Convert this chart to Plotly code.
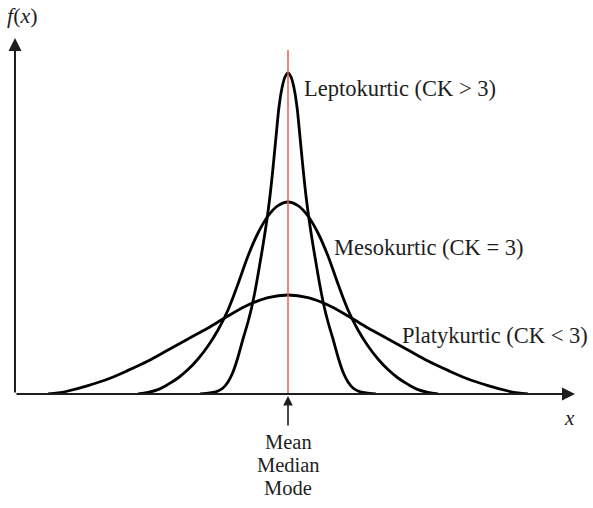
import plotly.graph_objects as go

# Leptokurtic (CK > 3)
lepto_x = [-2.2, -1.95, -1.75, -1.625, -1.5, -1.375, -1.25, -1.125, -1.0, -0.9, -0.8, -0.7, -0.6, -0.525, -0.45,
           -0.375, -0.3, -0.225, -0.15, -0.075, 0.0,
           0.075, 0.15, 0.225, 0.3, 0.375, 0.45, 0.525, 0.6, 0.7, 0.8, 0.9, 1.0, 1.125, 1.25, 1.375, 1.5,
           1.625, 1.75, 1.95, 2.2]
lepto_f = [0.0, 0.0025, 0.0075, 0.015, 0.03, 0.055, 0.0925, 0.1375, 0.18, 0.22, 0.27, 0.3275, 0.3875, 0.4375, 0.495,
           0.565, 0.6425, 0.7175, 0.765, 0.7925, 0.8025,
           0.7925, 0.765, 0.7175, 0.6425, 0.565, 0.495, 0.4375, 0.3875, 0.3275, 0.27, 0.22, 0.18, 0.1375, 0.0925,
           0.055, 0.03, 0.015, 0.0075, 0.0025, 0.0]

# Mesokurtic (CK = 3)
meso_x = [-3.75, -3.5, -3.25, -3.0, -2.75, -2.5, -2.25, -2.0, -1.75, -1.5, -1.25, -1.0, -0.75, -0.5, -0.25, 0.0,
          0.25, 0.5, 0.75, 1.0, 1.25, 1.5, 1.75, 2.0, 2.25, 2.5, 2.75, 3.0, 3.25, 3.5, 3.75]
meso_f = [0.0, 0.004, 0.011, 0.024, 0.04, 0.061, 0.0875, 0.12, 0.16, 0.21, 0.275, 0.345, 0.4025, 0.445, 0.471, 0.48,
          0.471, 0.445, 0.4025, 0.345, 0.275, 0.21, 0.16, 0.12, 0.0875, 0.061, 0.04, 0.024, 0.011, 0.004, 0.0]

# Platykurtic (CK < 3)
platy_x = [-6.0, -5.75, -5.5, -5.0, -4.5, -4.0, -3.5, -3.0, -2.5, -2.0, -1.5, -1.0, -0.5, 0.0,
           0.5, 1.0, 1.5, 2.0, 2.5, 3.0, 3.5, 4.0, 4.5, 5.0, 5.5, 5.75, 6.0]
platy_f = [0.0, 0.0025, 0.0075, 0.021, 0.0375, 0.059, 0.0825, 0.11, 0.1375, 0.165, 0.195, 0.2225, 0.241, 0.2475,
           0.241, 0.2225, 0.195, 0.165, 0.1375, 0.11, 0.0825, 0.059, 0.0375, 0.021, 0.0075, 0.0025, 0.0]

curve_labels = ["Leptokurtic (CK > 3)", "Mesokurtic (CK = 3)", "Platykurtic (CK < 3)"]
center_labels = ["Mean", "Median", "Mode"]

X_MIN, X_MAX = -6.825, 7.175
Y_MIN, Y_MAX = 0.0, 0.89
SERIF = "Liberation Serif, Times New Roman, serif"
INK = "#1e1e1e"

fig = go.Figure()
for xs, fs, name in [(platy_x, platy_f, curve_labels[2]),
                     (meso_x, meso_f, curve_labels[1]),
                     (lepto_x, lepto_f, curve_labels[0])]:
    fig.add_trace(go.Scatter(x=xs, y=fs, mode="lines", name=name,
                             line=dict(color="black", width=2.8, shape="spline", smoothing=1.0),
                             hoverinfo="skip", showlegend=False))

# red centre line
fig.add_shape(type="line", x0=0, x1=0, y0=0, y1=0.86, xref="x", yref="y",
              line=dict(color="#ee5a5a", width=1.5), layer="above")

anns = []
# axes with arrows
anns.append(dict(x=X_MAX, y=0, ax=X_MIN, ay=0, xref="x", yref="y", axref="x", ayref="y",
                 text="", showarrow=True, arrowhead=2, arrowsize=1.3, arrowwidth=2, arrowcolor=INK))
anns.append(dict(x=X_MIN, y=Y_MAX, ax=X_MIN, ay=0, xref="x", yref="y", axref="x", ayref="y",
                 text="", showarrow=True, arrowhead=2, arrowsize=1.3, arrowwidth=2, arrowcolor=INK))
# arrow under the centre
anns.append(dict(x=0, y=0, ax=0, ay=33, xref="x", yref="y", text="", showarrow=True,
                 arrowhead=2, arrowsize=1.2, arrowwidth=1.6, arrowcolor=INK, standoff=2))
for shift, t in zip([-48, -71, -94], center_labels):
    anns.append(dict(x=0, y=0, xref="x", yref="y", yshift=shift, xanchor="center", yanchor="middle",
                     text=t, showarrow=False, font=dict(family=SERIF, size=20.5, color=INK)))
# curve labels
for (lx, ly), t in zip([(0.35, 0.764), (1.1, 0.3675), (2.8, 0.1475)], curve_labels):
    anns.append(dict(x=lx, y=ly, xref="x", yref="y", text=t, showarrow=False,
                     xanchor="left", yanchor="middle",
                     font=dict(family=SERIF, size=22.5, color=INK)))
# axis labels (paper coordinates, outside the plotting range)
anns.append(dict(x=-0.018, y=1.0646, xref="paper", yref="paper", text="<i>f</i>(<i>x</i>)", showarrow=False,
                 xanchor="left", yanchor="middle", font=dict(family=SERIF, size=22, color=INK)))
anns.append(dict(x=0.991, y=-0.0674, xref="paper", yref="paper", text="<i>x</i>", showarrow=False,
                 xanchor="center", yanchor="middle", font=dict(family=SERIF, size=21, color=INK)))

fig.update_layout(
    width=593, height=508,
    margin=dict(l=15, r=18, t=38, b=114),
    paper_bgcolor="white", plot_bgcolor="white",
    xaxis=dict(range=[X_MIN, X_MAX], visible=False, fixedrange=True),
    yaxis=dict(range=[Y_MIN, Y_MAX], visible=False, fixedrange=True),
    annotations=anns,
    showlegend=False,
    hovermode=False,
)

fig.write_html("out.html", config={"displayModeBar": False, "staticPlot": True},
               post_script="document.body.style.margin='0px';document.body.style.overflow='hidden';")
